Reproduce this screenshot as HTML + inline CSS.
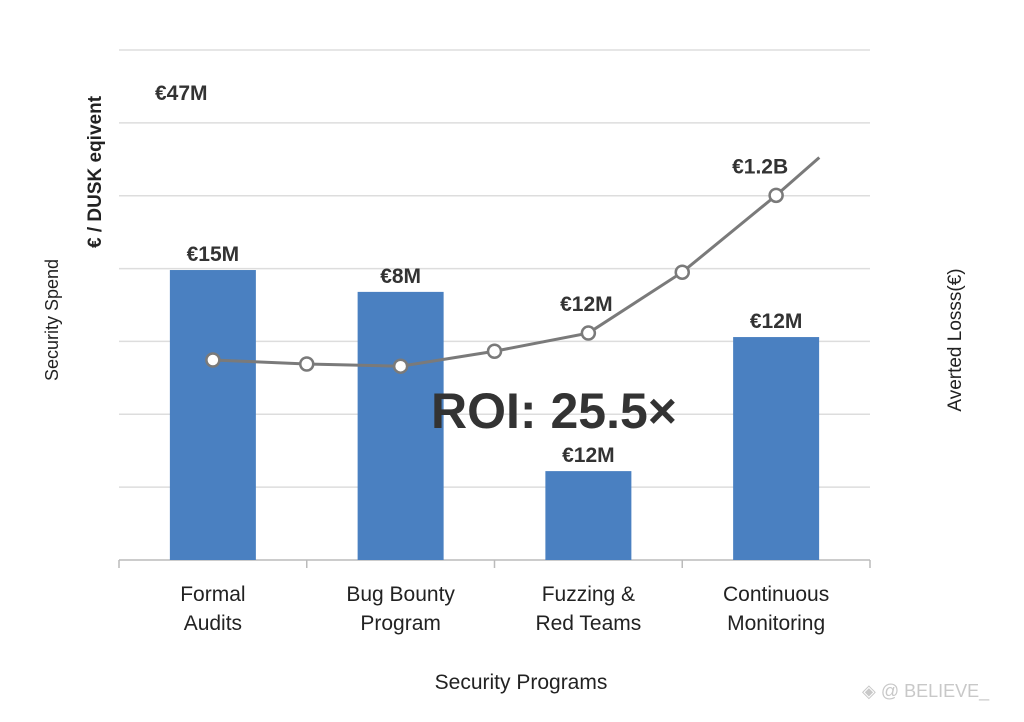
<!DOCTYPE html>
<html><head><meta charset="utf-8"><style>
body{margin:0;background:#fff;font-family:"Liberation Sans",sans-serif;}
svg text{font-family:"Liberation Sans",sans-serif;}
</style></head><body>
<svg id="c" width="1024" height="717" viewBox="0 0 1024 717">
<rect width="1024" height="717" fill="#fff"/>
<g id="grid"></g>
<g id="bars"></g>
<g id="line"></g>
<g id="labels"></g>
<text x="155" y="100" font-size="21" font-weight="bold" fill="#333">€47M</text>
<text x="554" y="428" font-size="50" font-weight="bold" fill="#333" text-anchor="middle">ROI: 25.5×</text>
<text transform="translate(58,320) rotate(-90)" font-size="18" fill="#222" text-anchor="middle">Security Spend</text>
<text transform="translate(101,172) rotate(-90)" font-size="19" font-weight="bold" fill="#222" text-anchor="middle">€ / DUSK eqivent</text>
<text transform="translate(961,340) rotate(-90)" font-size="19" fill="#222" text-anchor="middle">Averted Losss(€)</text>
<text x="521" y="689" font-size="21" fill="#222" text-anchor="middle">Security Programs</text>
<text x="862" y="697" font-size="18" fill="#c8c8c8">◈ @ BELIEVE_</text>
</svg>
<script>
const categories=[["Formal","Audits"],["Bug Bounty","Program"],["Fuzzing &","Red Teams"],["Continuous","Monitoring"]];
const spend=[19.9,18.4,6.1,15.3];
const spendLabels=["€15M","€8M","€12M","€12M"];
const lossPos=[0,0.5,1,1.5,2,2.5,3,3.23];
const lossVals=[549,538,532,573,623,790,1001,1105];
const lossLabels=[[4,"€12M",-2],[6,"€1.2B",-16]];
const yTicks=[0,5,10,15,20,25,30,35];
const NS="http://www.w3.org/2000/svg";
const x0=119,x1=870,yb=560,yt=50;
const band=(x1-x0)/categories.length;
const cx=i=>x0+band*(i+0.5);
const yL=v=>yb-(v/35)*(yb-yt);
const yR=v=>yb-(v/1400)*(yb-yt);
function mk(t,a,p){const e=document.createElementNS(NS,t);for(const k in a)e.setAttribute(k,a[k]);p.appendChild(e);return e;}
const g=document.getElementById('grid');
yTicks.forEach(t=>{const l=mk('line',{x1:x0,x2:x1,y1:yL(t),y2:yL(t),stroke:t===0?'#bbb':'#ddd','stroke-width':1.5},g);

});
for(let i=0;i<=categories.length;i++){const l=mk('line',{x1:x0+band*i,x2:x0+band*i,y1:yb,y2:yb+8,stroke:'#bbb','stroke-width':1.5},g);

}
const bg=document.getElementById('bars'),lg=document.getElementById('labels');
spend.forEach((v,i)=>{const r=mk('rect',{x:cx(i)-43,y:yL(v),width:86,height:yb-yL(v),fill:'#4a80c1'},bg);


const t=mk('text',{x:cx(i),y:yL(v)-9,'font-size':21,'font-weight':'bold',fill:'#333','text-anchor':'middle'},lg);t.textContent=spendLabels[i];


categories[i].forEach((s,k)=>{const c=mk('text',{x:cx(i),y:601+k*29,'font-size':21,fill:'#222','text-anchor':'middle'},lg);c.textContent=s;

});});
const ln=document.getElementById('line');
const pts=lossPos.map((p,i)=>[cx(p),yR(lossVals[i])]);
const pl=mk('polyline',{points:pts.map(p=>p.join(',')).join(' '),fill:'none',stroke:'#7a7a7a','stroke-width':3},ln);


pts.slice(0,-1).forEach(p=>{const c=mk('circle',{cx:p[0],cy:p[1],r:6.5,fill:'#fff',stroke:'#7a7a7a','stroke-width':2.5},ln);

});
lossLabels.forEach(([i,s,dx])=>{const t=mk('text',{x:pts[i][0]+dx,y:pts[i][1]-22,'font-size':21,'font-weight':'bold',fill:'#333','text-anchor':'middle'},lg);t.textContent=s;

});
</script>
</body></html>
